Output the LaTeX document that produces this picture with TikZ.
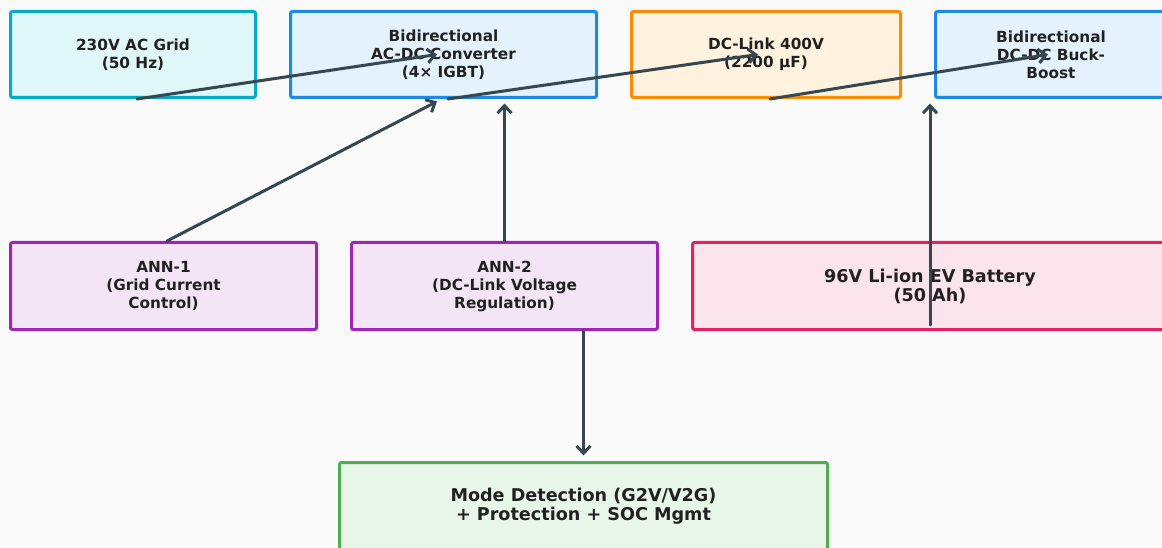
\documentclass[tikz,border=0pt]{standalone}
\usepackage{fontspec}
\setmainfont{DejaVu Sans}
\usetikzlibrary{arrows.meta}

\definecolor{bgc}{HTML}{FAFAFA}
\definecolor{ink}{HTML}{212121}
\definecolor{wire}{HTML}{37474F}
\definecolor{cyanB}{HTML}{00ACC1}\definecolor{cyanF}{HTML}{E0F7FA}
\definecolor{blueB}{HTML}{1E88E5}\definecolor{blueF}{HTML}{E3F2FD}
\definecolor{orngB}{HTML}{FB8C00}\definecolor{orngF}{HTML}{FFF3E0}
\definecolor{purpB}{HTML}{9C27B0}\definecolor{purpF}{HTML}{F3E5F5}
\definecolor{pinkB}{HTML}{E91E63}\definecolor{pinkF}{HTML}{FCE4EC}
\definecolor{grnB}{HTML}{4CAF50}\definecolor{grnF}{HTML}{E8F5E9}

\tikzset{
  blockbox/.style={draw, line width=3pt, rounded corners=2pt, inner sep=0pt,
    align=center, text=ink, font=\fontsize{15.3}{18}\selectfont\bfseries},
  bigtext/.style={font=\fontsize{17.6}{19}\selectfont\bfseries},
  flow/.style={draw=wire, line width=3pt, line cap=round,
    -{Straight Barb[length=7.5pt,width=14pt,line width=3pt]}},
}

\begin{document}
\begin{tikzpicture}[x=1pt,y=-1pt]
  \fill[bgc] (0,0) rectangle (1162,548);
  \useasboundingbox (0,0) rectangle (1162,548);
  \clip (0,0) rectangle (1162,548);

  % power path
  \node[blockbox, draw=cyanB, fill=cyanF, minimum width=245pt, minimum height=86pt]
    (grid) at (133,54.5) {230V AC Grid\\(50 Hz)};
  \node[blockbox, draw=blueB, fill=blueF, minimum width=306pt, minimum height=86pt]
    (acdc) at (443.5,54.5) {Bidirectional\\AC-DC Converter\\(4× IGBT)};
  \node[blockbox, draw=orngB, fill=orngF, minimum width=269pt, minimum height=86pt]
    (link) at (766,54.5) {DC-Link 400V\\(2200 µF)};
  \node[blockbox, draw=blueB, fill=blueF, minimum width=231pt, minimum height=86pt]
    (dcdc) at (1051,54.5) {Bidirectional\\DC-DC Buck-\\Boost};

  % controllers and storage
  \node[blockbox, draw=purpB, fill=purpF, minimum width=306pt, minimum height=87pt]
    (ann1) at (163.5,286) {ANN-1\\(Grid Current\\Control)};
  \node[blockbox, draw=purpB, fill=purpF, minimum width=306pt, minimum height=87pt]
    (ann2) at (504.5,286) {ANN-2\\(DC-Link Voltage\\Regulation)};
  \node[blockbox, bigtext, draw=pinkB, fill=pinkF, minimum width=475pt, minimum height=87pt]
    (batt) at (930,286) {96V Li-ion EV Battery\\(50 Ah)};

  % supervisory block
  \node[blockbox, bigtext, draw=grnB, fill=grnF, minimum width=488pt, minimum height=87pt]
    (mode) at (583.5,506) {Mode Detection (G2V/V2G)\\+ Protection + SOC Mgmt};

  % connectors
  \draw[flow] ([xshift=4pt]grid.south) -- ([xshift=-6.5pt]acdc.center);
  \draw[flow] ([xshift=4.5pt]acdc.south) -- ([xshift=-8pt]link.center);
  \draw[flow] ([xshift=4pt]link.south) -- ([xshift=-3pt]dcdc.center);
  \draw[flow] ([xshift=3.5pt]ann1.north) -- ([xshift=-6.5pt,yshift=-2.5pt]acdc.south);
  \draw[flow] (ann2.north) -- ([yshift=-4.5pt]ann2.north |- acdc.south);
  \draw[flow] ([yshift=-39pt]batt.center) -- ([yshift=-4.5pt]batt.center |- dcdc.south);
  \draw[flow] (mode.north |- ann2.south) -- ([yshift=5.5pt]mode.north);
\end{tikzpicture}
\end{document}
